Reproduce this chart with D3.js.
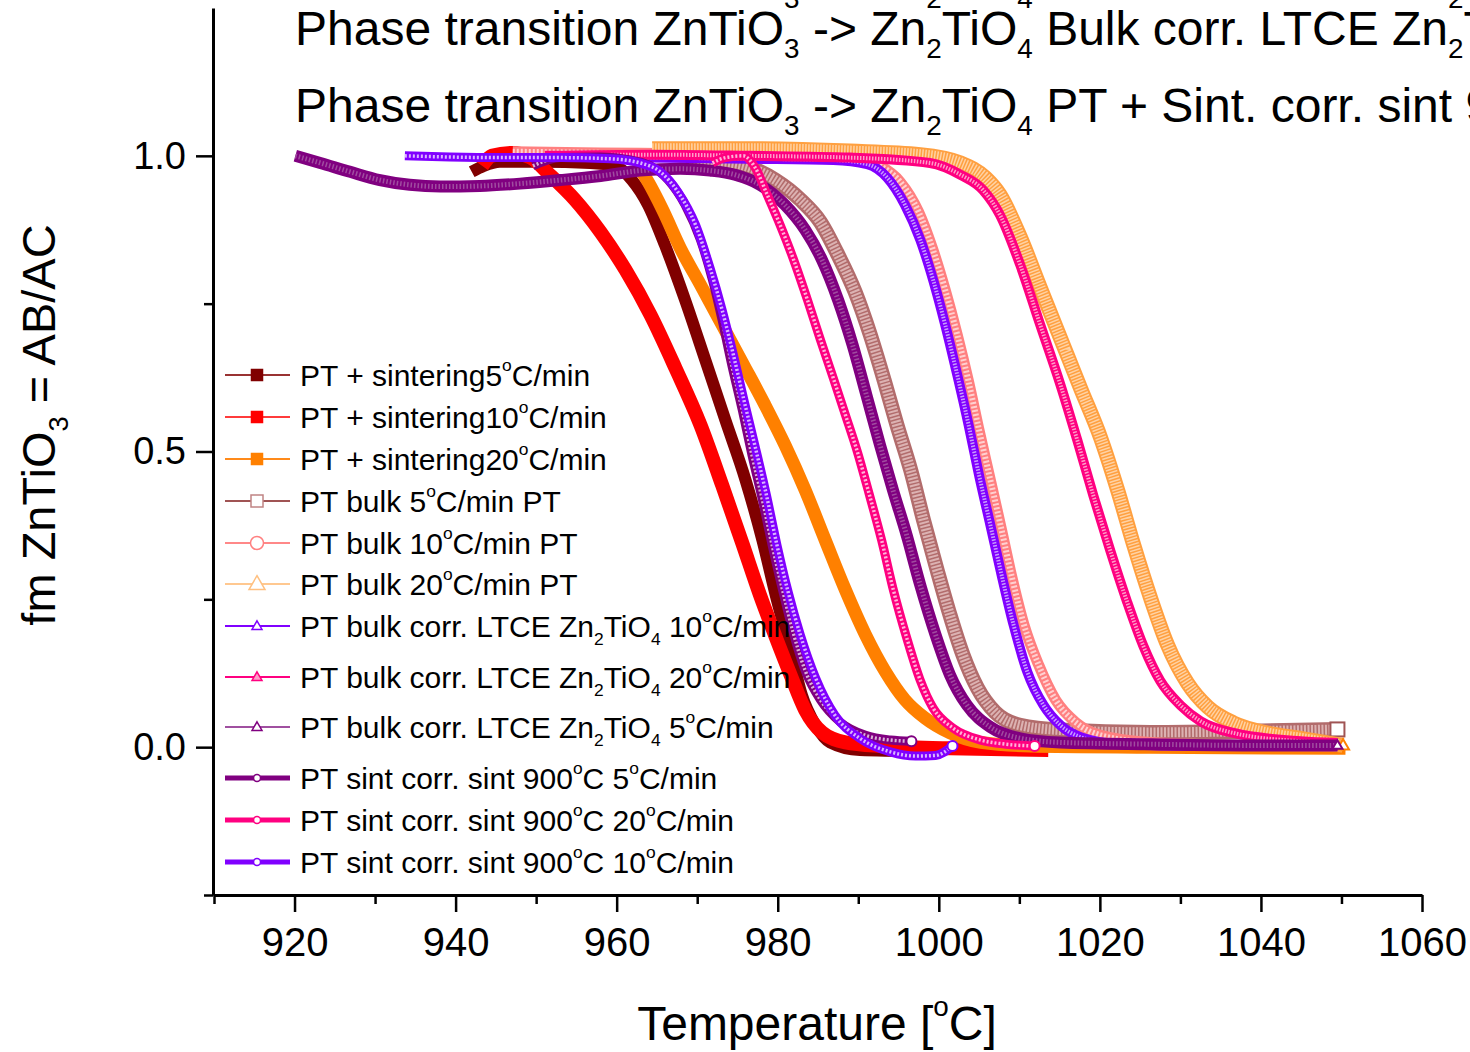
<!DOCTYPE html>
<html>
<head>
<meta charset="utf-8">
<script src="https://cdn.jsdelivr.net/npm/d3@7"></script>
<style>
  html, body { margin: 0; padding: 0; background: #fff; }
  svg { display: block; font-family: "Liberation Sans", Arial, Helvetica, sans-serif; }
</style>
</head>
<body>
<div id="chart"></div>
<script>
// [temperature degC, fm ZnTiO3]
const ptSint5 = [[942.0,0.973],[943.5,0.983],[945.5,0.990],[950.5,0.990],[956.7,0.988],[959.8,0.983],[961.9,0.959],[963.9,0.917],[966.0,0.849],[968.5,0.756],[971.0,0.655],[973.5,0.553],[976.0,0.452],[978.1,0.350],[979.9,0.249],[981.6,0.164],[983.0,0.088],[984.7,0.037],[986.5,0.008],[990.2,-0.005],[997.7,-0.007]];
const ptSint10 = [[943.3,0.983],[944.5,1.000],[947.0,1.005],[949.3,0.997],[951.7,0.968],[954.8,0.926],[958.0,0.871],[961.1,0.807],[964.2,0.731],[967.3,0.641],[970.4,0.545],[973.1,0.443],[975.6,0.345],[977.8,0.257],[979.7,0.188],[981.6,0.122],[983.4,0.063],[985.5,0.025],[988.4,0.008],[992.7,0.002],[1001.4,-0.002],[1013.6,-0.005]];
const ptSint20 = [[962.4,0.988],[963.9,0.956],[965.7,0.909],[967.9,0.844],[970.4,0.782],[972.9,0.719],[975.7,0.648],[978.4,0.579],[980.9,0.511],[983.4,0.435],[985.9,0.350],[988.4,0.266],[990.9,0.190],[993.4,0.127],[995.8,0.080],[998.3,0.049],[1001.4,0.024],[1005.2,0.008],[1011.4,0.002],[1026.3,0.000],[1050.5,-0.002]];
const bulk5 = [[969.1,0.993],[972.9,0.990],[976.6,0.980],[979.7,0.959],[982.8,0.926],[985.3,0.888],[987.5,0.832],[989.6,0.770],[991.5,0.697],[993.2,0.621],[994.8,0.545],[996.5,0.469],[998.1,0.384],[999.8,0.299],[1001.4,0.223],[1003.0,0.156],[1004.8,0.100],[1007.0,0.059],[1010.1,0.037],[1015.1,0.029],[1026.3,0.025],[1038.7,0.027],[1049.5,0.030]];
const bulk10 = [[947.1,1.007],[958.0,1.005],[970.4,1.003],[982.8,1.000],[989.0,0.997],[992.7,0.983],[995.2,0.956],[997.5,0.905],[999.2,0.844],[1000.8,0.773],[1002.3,0.697],[1003.7,0.618],[1005.0,0.536],[1006.4,0.452],[1007.8,0.367],[1009.1,0.286],[1010.6,0.206],[1012.4,0.139],[1014.5,0.080],[1017.0,0.042],[1020.1,0.020],[1026.3,0.008],[1038.7,0.003],[1049.9,0.002]];
const bulk20 = [[964.4,1.012],[976.6,1.012],[989.0,1.008],[997.7,1.002],[1002.7,0.988],[1005.8,0.963],[1007.6,0.934],[1010.1,0.863],[1012.6,0.777],[1015.1,0.692],[1017.6,0.607],[1020.1,0.523],[1022.2,0.435],[1024.2,0.342],[1026.3,0.252],[1028.4,0.173],[1030.9,0.108],[1033.4,0.068],[1036.6,0.041],[1040.8,0.024],[1044.9,0.015],[1050.2,0.003]];
const ltce10 = [[953.0,0.998],[964.2,0.997],[976.6,0.995],[986.9,0.993],[991.1,0.986],[993.6,0.963],[995.8,0.917],[997.7,0.858],[999.3,0.790],[1000.8,0.714],[1002.3,0.629],[1003.7,0.545],[1005.0,0.460],[1006.4,0.376],[1007.8,0.291],[1009.3,0.206],[1011.0,0.127],[1013.0,0.071],[1015.1,0.037],[1017.6,0.017],[1022.5,0.005],[1032.5,0.002],[1049.5,0.002]];
const ltce20 = [[951.1,1.000],[964.2,1.002],[976.6,1.000],[989.0,0.997],[998.9,0.988],[1002.7,0.968],[1005.5,0.942],[1007.6,0.900],[1010.1,0.816],[1012.6,0.714],[1015.1,0.613],[1017.2,0.519],[1019.2,0.425],[1021.3,0.332],[1023.4,0.245],[1025.4,0.171],[1027.5,0.112],[1030.0,0.071],[1032.5,0.044],[1036.6,0.024],[1044.9,0.010],[1049.5,0.007]];
const ltce5 = [[920.1,1.000],[923.2,0.988],[926.9,0.973],[930.6,0.959],[934.3,0.951],[938.1,0.948],[943.0,0.949],[948.0,0.953],[953.0,0.959],[958.0,0.966],[962.9,0.975],[967.9,0.978],[971.6,0.975],[974.7,0.968],[977.8,0.951],[980.9,0.917],[983.4,0.875],[985.5,0.824],[987.5,0.756],[989.3,0.680],[991.0,0.596],[992.7,0.511],[994.3,0.435],[996.0,0.359],[997.7,0.274],[999.6,0.190],[1001.4,0.122],[1003.5,0.071],[1006.4,0.034],[1010.1,0.015],[1015.1,0.008],[1026.3,0.005],[1038.7,0.003],[1049.5,0.003]];
const sint900_5 = [[949.6,0.983],[953.0,0.997],[958.0,0.998],[961.7,0.993],[964.2,0.983],[966.4,0.959],[968.5,0.917],[970.4,0.858],[971.9,0.790],[973.1,0.722],[974.3,0.646],[975.6,0.570],[976.8,0.494],[978.1,0.418],[979.3,0.342],[980.6,0.266],[981.9,0.195],[983.4,0.130],[985.3,0.080],[987.8,0.042],[990.9,0.020],[994.0,0.012],[996.6,0.010]];
const sint900_10 = [[933.7,1.000],[939.3,0.998],[945.5,0.997],[953.0,0.997],[959.2,0.995],[962.9,0.988],[965.4,0.973],[967.6,0.939],[969.8,0.883],[971.6,0.810],[973.1,0.739],[974.5,0.663],[975.8,0.587],[977.2,0.508],[978.6,0.426],[979.9,0.342],[981.3,0.262],[982.8,0.190],[984.7,0.117],[987.1,0.054],[990.2,0.015],[994.0,-0.008],[997.1,-0.015],[999.6,-0.014],[1001.7,0.002]];
const sint900_20 = [[971.9,0.988],[973.5,0.997],[975.7,1.000],[977.2,0.980],[978.7,0.934],[980.3,0.883],[981.9,0.827],[983.7,0.756],[985.3,0.689],[986.9,0.624],[988.4,0.562],[989.9,0.499],[991.4,0.426],[992.9,0.350],[994.3,0.269],[996.1,0.181],[997.7,0.113],[999.3,0.066],[1001.8,0.032],[1005.2,0.012],[1008.3,0.005],[1011.9,0.002]];

const legendLabels = [
  'PT + sintering5^{o}C/min',
  'PT + sintering10^{o}C/min',
  'PT + sintering20^{o}C/min',
  'PT bulk 5^{o}C/min PT',
  'PT bulk 10^{o}C/min PT',
  'PT bulk 20^{o}C/min PT',
  'PT bulk corr. LTCE Zn_{2}TiO_{4} 10^{o}C/min',
  'PT bulk corr. LTCE Zn_{2}TiO_{4} 20^{o}C/min',
  'PT bulk corr. LTCE Zn_{2}TiO_{4} 5^{o}C/min',
  'PT sint corr. sint 900^{o}C 5^{o}C/min',
  'PT sint corr. sint 900^{o}C 20^{o}C/min',
  'PT sint corr. sint 900^{o}C 10^{o}C/min',
];
const titleLines = [
  'Phase transition ZnTiO_{3} -> Zn_{2}TiO_{4} Bulk corr. LTCE Zn_{2}TiO_{4}',
  'Phase transition ZnTiO_{3} -> Zn_{2}TiO_{4} Bulk corr. LTCE Zn_{2}TiO_{4}',
  'Phase transition ZnTiO_{3} -> Zn_{2}TiO_{4} PT + Sint. corr. sint 900^{o}C',
];
const xTicks = [920, 940, 960, 980, 1000, 1020, 1040, 1060];
const xMinor = [910, 930, 950, 970, 990, 1010, 1030, 1050];
const yTicks = [0.0, 0.5, 1.0];
const yMinor = [-0.25, 0.25, 0.75];

// styles (drawn in legend order, later on top)
const series = [
  { data: ptSint5, layers: [{ c: '#800000', w: 12 }], line: '#993333', lw: 2, mk: 'square', fill: '#800000', stroke: '#800000', ms: 11 },
  { data: ptSint10, layers: [{ c: '#ff0000', w: 14 }], line: '#ff3b3b', lw: 2, mk: 'square', fill: '#ff0000', stroke: '#ff0000', ms: 11 },
  { data: ptSint20, layers: [{ c: '#ff8000', w: 13 }], line: '#ff8a1a', lw: 2, mk: 'square', fill: '#ff8000', stroke: '#ff8000', ms: 11 },
  { data: bulk5, layers: [{ c: '#b26c6c', w: 15 }, { c: '#dcb2b2', w: 10, dash: '2,1.5' }], line: '#a05454', lw: 2, mk: 'square', fill: '#fff', stroke: '#c08484', ms: 12, end: { fill: '#fff', stroke: '#a05454', ms: 14 } },
  { data: bulk10, layers: [{ c: '#ff8080', w: 11 }, { c: '#ffd0d0', w: 6, dash: '2,2' }], line: '#ff8888', lw: 2, mk: 'circle', fill: '#fff', stroke: '#ff8080', ms: 13 },
  { data: bulk20, layers: [{ c: '#ffa040', w: 15 }, { c: '#ffd2a4', w: 11, dash: '1.5,1.5' }], line: '#ffc890', lw: 2, mk: 'triangle', fill: '#fff', stroke: '#ffc080', ms: 16, end: { fill: '#fff', stroke: '#ff8000', ms: 12 } },
  { data: ltce10, layers: [{ c: '#8000ff', w: 10 }, { c: '#c79cff', w: 4, dash: '1.5,1.5' }], line: '#8000ff', lw: 2, mk: 'triangle', fill: '#fff', stroke: '#8000ff', ms: 10 },
  { data: ltce20, layers: [{ c: '#ff0080', w: 10 }, { c: '#ff9cc8', w: 4, dash: '1.5,1.5' }], line: '#ff0080', lw: 2, mk: 'triangle', fill: '#ff9cc8', stroke: '#ff0080', ms: 10 },
  { data: ltce5, layers: [{ c: '#800080', w: 12 }, { c: '#a04ca0', w: 5, dash: '1.5,2' }], line: '#a050a0', lw: 2, mk: 'triangle', fill: '#fff', stroke: '#800080', ms: 10, end: { fill: '#fff', stroke: '#800080', ms: 10 } },
  { data: sint900_5, layers: [{ c: '#800080', w: 9 }, { c: '#ffffff', w: 3.5, dash: '2,2', o: 0.7 }], line: '#800080', lw: 5, mk: 'circle', fill: '#fff', stroke: '#800080', ms: 7, end: { fill: '#fff', stroke: '#800080', ms: 10 } },
  { data: sint900_20, layers: [{ c: '#ff0080', w: 9 }, { c: '#ffffff', w: 3.5, dash: '2,2', o: 0.7 }], line: '#ff0080', lw: 5, mk: 'circle', fill: '#fff', stroke: '#ff0080', ms: 7, end: { fill: '#fff', stroke: '#ff0080', ms: 10 } },
  { data: sint900_10, layers: [{ c: '#8000ff', w: 9 }, { c: '#ffffff', w: 3.5, dash: '2,2', o: 0.7 }], line: '#8000ff', lw: 5, mk: 'circle', fill: '#fff', stroke: '#8000ff', ms: 7, end: { fill: '#fff', stroke: '#8000ff', ms: 10 } },
];

const W = 1470, H = 1052;
const x = d3.scaleLinear().domain([910, 1060]).range([214, 1422]);
const y = d3.scaleLinear().domain([-0.25, 1.25]).range([895, 8]);

const svg = d3.select('#chart').append('svg')
  .attr('width', W).attr('height', H)
  .attr('viewBox', `0 0 ${W} ${H}`);

// text with _{sub} and ^{sup} pieces
function rich(text, str, size) {
  const parts = str.split(/(_\{[^}]*\}|\^\{[^}]*\})/).filter((p) => p !== '');
  let cur = 0;
  parts.forEach((p) => {
    let target = 0, fs = size, s = p;
    if (p.startsWith('_{')) { target = size * 0.28; fs = size * 0.58; s = p.slice(2, -1); }
    else if (p.startsWith('^{')) { target = -size * 0.5; fs = size * 0.58; s = p.slice(2, -1); }
    text.append('tspan')
      .attr('font-size', fs)
      .attr('dy', target - cur)
      .text(s);
    cur = target;
  });
}

function marker(g, type, cx, cy, ms, fill, stroke, sw) {
  if (type === 'square') {
    g.append('rect').attr('x', cx - ms / 2).attr('y', cy - ms / 2)
      .attr('width', ms).attr('height', ms)
      .attr('fill', fill).attr('stroke', stroke).attr('stroke-width', sw);
  } else if (type === 'circle') {
    g.append('circle').attr('cx', cx).attr('cy', cy).attr('r', ms / 2)
      .attr('fill', fill).attr('stroke', stroke).attr('stroke-width', sw);
  } else {
    const h = ms * 0.87;
    g.append('path')
      .attr('d', `M${cx},${cy - h * 0.6}L${cx + ms / 2},${cy + h * 0.4}L${cx - ms / 2},${cy + h * 0.4}Z`)
      .attr('fill', fill).attr('stroke', stroke).attr('stroke-width', sw);
  }
}

// titles (top one sits mostly above the page, as in the original)
const titleY = [-5, 45, 122];
titleLines.forEach((t, i) => {
  rich(svg.append('text').attr('x', 295).attr('y', titleY[i]).attr('font-size', 48), t, 48);
});

// curves
const lineGen = d3.line()
  .x((d) => x(d[0]))
  .y((d) => y(d[1]))
  .curve(d3.curveMonotoneX);

const plot = svg.append('g');
series.forEach((s) => {
  s.layers.forEach((l) => {
    plot.append('path')
      .datum(s.data)
      .attr('d', lineGen)
      .attr('fill', 'none')
      .attr('stroke', l.c)
      .attr('stroke-width', l.w)
      .attr('stroke-dasharray', l.dash || null)
      .attr('stroke-opacity', l.o || 1)
      .attr('stroke-linejoin', 'round');
  });
  if (s.end) {
    const last = s.data[s.data.length - 1];
    marker(plot, s.mk, x(last[0]), y(last[1]), s.end.ms, s.end.fill, s.end.stroke, 2);
  }
});

// axes
const axisG = svg.append('g');
const yAxis = axisG.append('g').attr('transform', 'translate(213,0)')
  .call(d3.axisLeft(y).tickValues(yTicks).tickFormat(d3.format('.1f'))
    .tickSize(17).tickSizeOuter(0).tickPadding(10));
axisG.append('g').attr('transform', 'translate(213,0)')
  .call(d3.axisLeft(y).tickValues(yMinor).tickFormat('').tickSize(9).tickSizeOuter(0))
  .select('.domain').remove();
const xAxis = axisG.append('g').attr('transform', 'translate(0,895)')
  .call(d3.axisBottom(x).tickValues(xTicks).tickFormat(d3.format('d'))
    .tickSize(17).tickSizeOuter(0).tickPadding(16));
axisG.append('g').attr('transform', 'translate(0,895)')
  .call(d3.axisBottom(x).tickValues(xMinor).tickFormat('').tickSize(9).tickSizeOuter(0))
  .select('.domain').remove();

axisG.selectAll('.domain').attr('stroke', '#000').attr('stroke-width', 3);
axisG.selectAll('.tick line').attr('stroke', '#000').attr('stroke-width', 2.5);
yAxis.selectAll('text').attr('font-size', 38).attr('fill', '#000')
  .style('font-family', '"Liberation Sans", Arial, sans-serif');
xAxis.selectAll('text').attr('font-size', 40).attr('fill', '#000')
  .style('font-family', '"Liberation Sans", Arial, sans-serif');

// axis titles
rich(svg.append('text').attr('x', 817).attr('y', 1040)
  .attr('text-anchor', 'middle').attr('font-size', 48), 'Temperature [^{o}C]', 48);
rich(svg.append('text').attr('transform', 'translate(55,425) rotate(-90)')
  .attr('text-anchor', 'middle').attr('font-size', 47), 'fm ZnTiO_{3} = AB/AC', 47);

// legend
const legendY = [375, 417, 459, 501, 543, 584, 626, 677, 727, 778, 820, 862];
const legend = svg.append('g');
series.forEach((s, i) => {
  const ly = legendY[i];
  legend.append('line')
    .attr('x1', 225).attr('x2', 290).attr('y1', ly).attr('y2', ly)
    .attr('stroke', s.line).attr('stroke-width', s.lw);
  marker(legend, s.mk, 257, ly, s.ms, s.fill, s.stroke, 1.5);
  rich(legend.append('text').attr('x', 300).attr('y', ly + 11).attr('font-size', 30),
    legendLabels[i], 30);
});
</script>
</body>
</html>
